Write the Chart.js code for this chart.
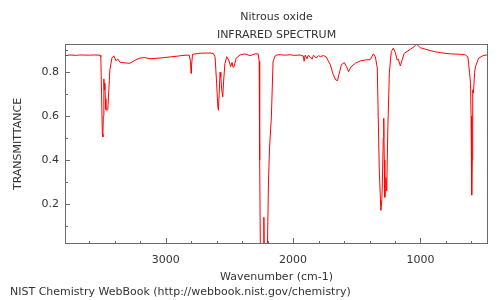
<!DOCTYPE html>
<html>
<head>
<meta charset="utf-8">
<script src="https://cdn.jsdelivr.net/npm/chart.js@4"></script>
<style>
  body { margin: 0; background: #fff; }
  canvas { display: block; }
</style>
</head>
<body>
<canvas id="irChart" width="500" height="300"></canvas>
<script>
// spectrum (wavenumber cm-1, transmittance)
const waveNumbers = [
  3792, 3752, 3700, 3674, 3600, 3560, 3515, 3509, 3503, 3497, 3493, 3489, 3485, 3481, 3477, 3473,
  3469, 3461, 3454, 3446, 3438, 3422, 3406, 3391, 3375, 3359, 3320, 3281, 3240, 3202, 3163, 3123,
  3045, 2966, 2888, 2848, 2815, 2805, 2801, 2797, 2789, 2730, 2652, 2625, 2612, 2600, 2590, 2586,
  2580, 2573, 2567, 2560, 2552, 2545, 2535, 2520, 2505, 2490, 2479, 2471, 2463, 2447, 2416, 2377,
  2337, 2298, 2274, 2266, 2262, 2257, 2245, 2231, 2229, 2227, 2215, 2201, 2193, 2185, 2170, 2157,
  2140, 2127, 2101, 2060, 2023, 1990, 1944, 1920, 1913, 1905, 1890, 1881, 1865, 1850, 1840, 1818,
  1800, 1787, 1760, 1740, 1708, 1685, 1665, 1651, 1640, 1620, 1598, 1580, 1564, 1545, 1512, 1473,
  1433, 1394, 1370, 1354, 1339, 1330, 1323, 1311, 1303, 1299, 1292, 1288, 1284, 1280, 1276, 1272,
  1268, 1264, 1256, 1244, 1229, 1213, 1197, 1183, 1174, 1158, 1142, 1127, 1079, 1048, 1032, 1016,
  1001, 960, 922, 880, 843, 800, 765, 686, 647, 628, 615, 607, 603, 600, 596, 594,
  592, 588, 584, 575, 568, 544, 513, 474
];
const transmittance = [
  0.875, 0.879, 0.877, 0.879, 0.878, 0.879, 0.878, 0.870, 0.70, 0.52, 0.505, 0.60, 0.77, 0.72, 0.75, 0.68,
  0.63, 0.627, 0.63, 0.72, 0.81, 0.865, 0.875, 0.853, 0.860, 0.846, 0.843, 0.841, 0.855, 0.865, 0.867, 0.862,
  0.865, 0.870, 0.875, 0.878, 0.878, 0.850, 0.795, 0.830, 0.882, 0.887, 0.888, 0.885, 0.870, 0.75, 0.64, 0.627,
  0.70, 0.80, 0.78, 0.72, 0.688, 0.76, 0.84, 0.871, 0.856, 0.826, 0.845, 0.823, 0.825, 0.864, 0.879, 0.884,
  0.876, 0.884, 0.884, 0.85, 0.40, 0.01, 0.01, 0.01, 0.139, 0.01, 0.01, 0.01, 0.30, 0.45, 0.60, 0.85,
  0.875, 0.879, 0.880, 0.878, 0.880, 0.877, 0.879, 0.874, 0.850, 0.878, 0.862, 0.877, 0.870, 0.860, 0.878, 0.865,
  0.876, 0.872, 0.876, 0.870, 0.835, 0.79, 0.765, 0.762, 0.79, 0.835, 0.844, 0.825, 0.803, 0.825, 0.841, 0.852,
  0.856, 0.858, 0.884, 0.87, 0.82, 0.55, 0.35, 0.17, 0.22, 0.30, 0.50, 0.59, 0.40, 0.23, 0.28, 0.32,
  0.26, 0.29, 0.55, 0.80, 0.895, 0.91, 0.89, 0.856, 0.86, 0.829, 0.86, 0.887, 0.905, 0.917, 0.929, 0.92,
  0.912, 0.905, 0.899, 0.893, 0.890, 0.886, 0.884, 0.882, 0.879, 0.87, 0.80, 0.75, 0.60, 0.40, 0.24, 0.40,
  0.72, 0.72, 0.705, 0.80, 0.826, 0.864, 0.875, 0.880
];

const xTickValues = [3000, 2000, 1000];
const yTickValues = [0.2, 0.4, 0.6, 0.8];
const xMinorStep = 200;
const yMinorStep = 0.1;

const fontFamily = '"DejaVu Sans", Verdana, sans-serif';
const textColor = '#333';
const frameColor = '#6a6a6a';

// frame round the plot and the inward tick marks
const framePlugin = {
  id: 'frame',
  afterDraw(chart) {
    const { ctx, chartArea: a, scales } = chart;
    ctx.save();
    ctx.strokeStyle = frameColor;
    ctx.lineWidth = 1;
    ctx.strokeRect(a.left + 0.5, a.top + 0.5, a.right - a.left - 1, a.bottom - a.top - 1);

    ctx.beginPath();
    const xs = scales.x;
    for (let w = Math.ceil(xs.min / xMinorStep) * xMinorStep; w <= xs.max; w += xMinorStep) {
      const px = Math.round(xs.getPixelForValue(w)) + 0.5;
      const len = w % 1000 === 0 ? 6 : 3;
      ctx.moveTo(px, a.bottom);
      ctx.lineTo(px, a.bottom - len);
    }
    const ys = scales.y;
    for (let i = Math.ceil(ys.min / yMinorStep); i * yMinorStep <= ys.max; i++) {
      const py = Math.round(ys.getPixelForValue(i * yMinorStep)) + 0.5;
      const len = i % 2 === 0 ? 5 : 3;
      ctx.moveTo(a.left, py);
      ctx.lineTo(a.left + len, py);
    }
    ctx.stroke();
    ctx.restore();
  }
};

new Chart(document.getElementById('irChart'), {
  type: 'line',
  data: {
    datasets: [{
      data: waveNumbers.map((w, i) => ({ x: w, y: transmittance[i] })),
      borderColor: '#ff0000',
      borderWidth: 1,
      pointRadius: 0,
      tension: 0,
      fill: false
    }]
  },
  options: {
    responsive: false,
    animation: false,
    devicePixelRatio: 1,
    layout: { padding: { left: 10, right: 12, top: 0, bottom: 1 } },
    plugins: {
      legend: { display: false },
      tooltip: { enabled: false },
      title: {
        display: true,
        text: ['Nitrous oxide', 'INFRARED SPECTRUM'],
        color: textColor,
        fullSize: false,
        font: { family: fontFamily, size: 11, weight: 'normal', lineHeight: 1.6 },
        padding: { top: 8.7, bottom: 0.1 }
      },
      subtitle: {
        display: true,
        position: 'bottom',
        align: 'start',
        text: 'NIST Chemistry WebBook (http://webbook.nist.gov/chemistry)',
        color: textColor,
        font: { family: fontFamily, size: 11, lineHeight: 1.2 },
        padding: 0
      }
    },
    scales: {
      x: {
        type: 'linear',
        reverse: true,
        min: 470,
        max: 3790,
        afterBuildTicks: s => { s.ticks = xTickValues.map(v => ({ value: v })); },
        afterFit: s => { s.height = 41.8; },
        grid: { display: false, drawTicks: false },
        border: { display: false },
        ticks: {
          color: textColor,
          padding: 10,
          maxRotation: 0,
          font: { family: fontFamily, size: 11 },
          callback: v => String(v)
        },
        title: {
          display: true,
          text: 'Wavenumber (cm-1)',
          color: textColor,
          font: { family: fontFamily, size: 11, lineHeight: 1.2 },
          padding: { top: 0, bottom: 2.5 }
        }
      },
      y: {
        min: 0.017,
        max: 0.929,
        afterBuildTicks: s => { s.ticks = yTickValues.map(v => ({ value: v })); },
        afterFit: s => { s.width = 55; },
        grid: { display: false, drawTicks: false },
        border: { display: false },
        ticks: {
          color: textColor,
          padding: 6,
          font: { family: fontFamily, size: 11 },
          callback: v => v.toFixed(1)
        },
        title: {
          display: true,
          text: 'TRANSMITTANCE',
          color: textColor,
          font: { family: fontFamily, size: 11, lineHeight: 1.2 },
          padding: { top: 2, bottom: 0 }
        }
      }
    }
  },
  plugins: [framePlugin]
});
</script>
</body>
</html>
